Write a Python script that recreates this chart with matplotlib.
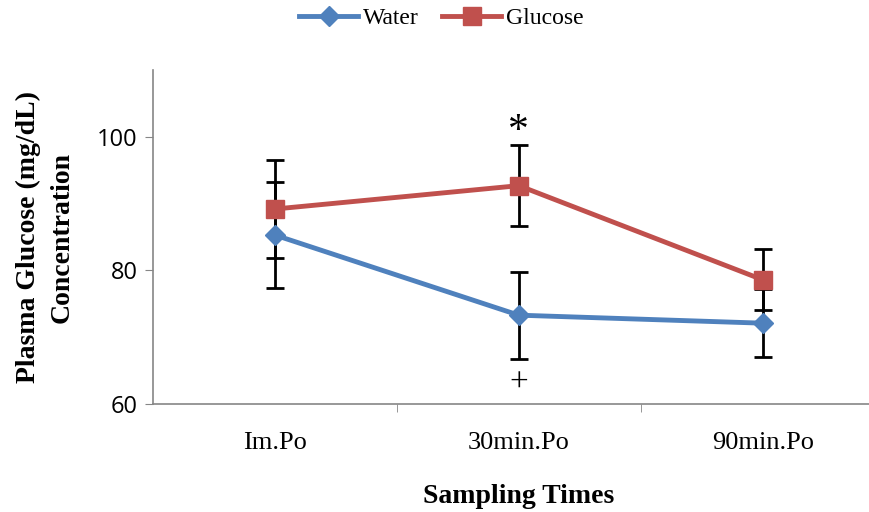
import numpy as np
import matplotlib.pyplot as plt

# Data.
categories = ['Im.Po', '30min.Po', '90min.Po']
water_mean = [85.3, 73.3, 72.1]
water_err = [7.9, 6.5, 5.1]
glucose_mean = [89.2, 92.7, 78.6]
glucose_err = [7.3, 6.1, 4.6]

blue = '#4F81BD'
red = '#C0504D'
grey = '#868686'

fig = plt.figure(figsize=(8.69, 5.12), dpi=100)
ax = fig.add_axes([0.176, 0.211, 0.842, 0.652])

x = np.arange(len(categories))

# Error bars first so markers sit on top.
ax.errorbar(x, water_mean, yerr=water_err, fmt='none', ecolor='black',
            elinewidth=2, capsize=6.5, capthick=2, zorder=2)
ax.errorbar(x, glucose_mean, yerr=glucose_err, fmt='none', ecolor='black',
            elinewidth=2, capsize=6.5, capthick=2, zorder=2)

ax.plot(x, water_mean, color=blue, lw=3.5, marker='D', markersize=10,
        label='Water', zorder=3)
ax.plot(x, glucose_mean, color=red, lw=3.5, marker='s', markersize=13,
        label='Glucose', zorder=3)

# Significance marks.
ax.text(1, glucose_mean[1] + glucose_err[1] + 2.0, '*', ha='center', va='center',
        fontsize=30, family='Liberation Serif')
ax.text(1, water_mean[1] - water_err[1] - 3.8, '+', ha='center', va='center',
        fontsize=24, family='Liberation Serif')

ax.set_xlim(-0.5, 2.5)
ax.set_ylim(60, 110)
ax.set_yticks([60, 80, 100])
ax.set_xticks(x)
ax.set_xticklabels(categories, family='Liberation Serif', fontsize=19)
ax.set_xticks([0.5, 1.5], minor=True)
ax.tick_params(axis='x', which='major', length=0, pad=20)
ax.tick_params(axis='x', which='minor', length=6, color=grey, direction='out')
ax.tick_params(axis='y', length=6, color=grey, labelsize=17, pad=5)
for lbl in ax.get_yticklabels():
    lbl.set_family('Open Sans')

for side in ['top', 'right']:
    ax.spines[side].set_visible(False)
for side in ['left', 'bottom']:
    ax.spines[side].set_color(grey)
    ax.spines[side].set_linewidth(1.2)

ax.set_ylabel('Plasma Glucose (mg/dL)\nConcentration', family='Liberation Serif',
              fontsize=20, fontweight='bold', labelpad=16, linespacing=1.45)
ax.set_xlabel('Sampling Times', family='Liberation Serif', fontsize=20,
              fontweight='bold', labelpad=22)

fig.legend(loc='upper center', bbox_to_anchor=(0.508, 1.027), ncol=2, frameon=False,
           prop={'family': 'Liberation Serif', 'size': 17}, handlelength=2.5,
           columnspacing=1.0, handletextpad=0.2)

fig.savefig('out.png', dpi=100)
